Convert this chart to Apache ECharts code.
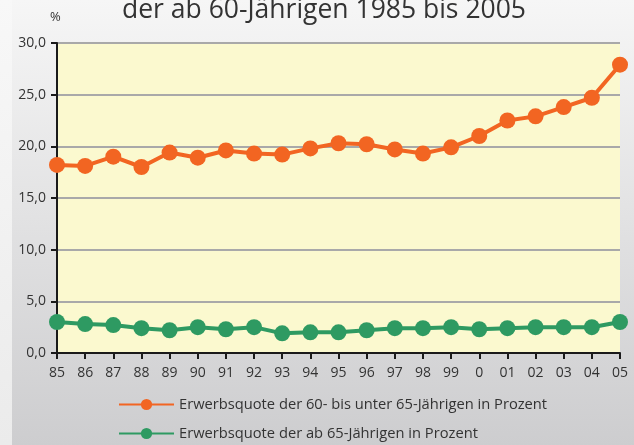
<!DOCTYPE html>
<html><head><meta charset="utf-8">
<script src="https://cdn.jsdelivr.net/npm/echarts@6/dist/echarts.min.js"></script>
<style>html,body{margin:0;padding:0;}#c{width:634px;height:445px;}</style>
</head><body><div id="c"></div>
<script>
var categories = ['85','86','87','88','89','90','91','92','93','94','95','96','97','98','99','0','01','02','03','04','05'];
var series60 = [18.2,18.1,19.0,18.0,19.4,18.9,19.6,19.3,19.2,19.8,20.3,20.2,19.7,19.3,19.9,21.0,22.5,22.9,23.8,24.7,27.9];
var series65 = [3.0,2.8,2.7,2.4,2.2,2.5,2.3,2.5,1.9,2.0,2.0,2.2,2.4,2.4,2.5,2.3,2.4,2.5,2.5,2.5,3.0];
var name60 = 'Erwerbsquote der 60- bis unter 65-Jährigen in Prozent';
var name65 = 'Erwerbsquote der ab 65-Jährigen in Prozent';
var titleText = 'der ab 60-Jährigen 1985 bis 2005';

var font = '"Open Sans", "Noto Sans", sans-serif';
var chart = echarts.init(document.getElementById('c'), null, {renderer:'canvas'});
chart.setOption({
  backgroundColor: new echarts.graphic.LinearGradient(0,0,0,1,[{offset:0,color:'#f6f6f6'},{offset:1,color:'#cdcdcf'}]),
  animation:false,
  graphic:[
    {type:'rect', left:0, top:0, z:-10, silent:true, shape:{width:12, height:445},
     style:{fill:new echarts.graphic.LinearGradient(0,0,0,1,[{offset:0,color:'#f8f8f8'},{offset:1,color:'#ebebeb'}])}},
    {type:'text', left:122, top:-3, style:{text:titleText, font:'26.5px '+font, fill:'#333'}},
    {type:'text', left:50, top:11, style:{text:'%', font:'13px '+font, fill:'#333'}}
  ],
  grid:{left:57, right:14, top:43, bottom:92, show:true, backgroundColor:'#fbf9cf', borderWidth:0},
  legend:{
    orient:'vertical', left:118, top:397, padding:0, itemWidth:55, itemHeight:14, itemGap:14,
    textStyle:{fontSize:14.7, color:'#333', fontFamily:font},
    data:[name60, name65]
  },
  xAxis:{
    type:'category', data:categories, boundaryGap:false,
    axisLine:{lineStyle:{color:'#1a1a1a', width:2}},
    axisTick:{show:true, length:6, lineStyle:{color:'#1a1a1a', width:2}},
    axisLabel:{color:'#333', fontSize:14, fontFamily:font, margin:13}
  },
  yAxis:{
    type:'value', min:0, max:30, interval:5,
    axisLine:{show:true, lineStyle:{color:'#1a1a1a', width:2}},
    axisTick:{show:true, length:6, lineStyle:{color:'#1a1a1a', width:2}},
    axisLabel:{color:'#333', fontSize:14, fontFamily:font, margin:11, formatter:function(v){return v.toFixed(1).replace('.',',');}},
    splitLine:{lineStyle:{color:'#a9a9a9', width:2}}
  },
  series:[
    {name:name60, type:'line', data:series60, symbol:'circle', symbolSize:16, lineStyle:{color:'#f26522', width:4}, itemStyle:{color:'#f26522'}},
    {name:name65, type:'line', data:series65, symbol:'circle', symbolSize:16, lineStyle:{color:'#2e9a62', width:4}, itemStyle:{color:'#2e9a62'}}
  ]
});
</script></body></html>
